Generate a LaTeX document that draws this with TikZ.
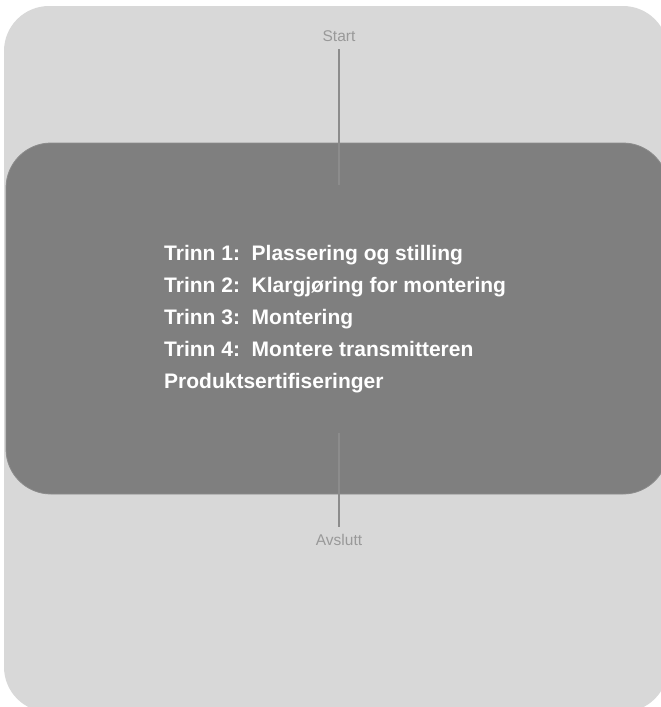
\documentclass[tikz,border=0pt]{standalone}
\usepackage{fontspec}
\setmainfont{Liberation Sans}
\usepackage{tikz}
\usetikzlibrary{positioning,calc}
\definecolor{panellight}{HTML}{D8D8D8}
\definecolor{paneldark}{HTML}{7F7F7F}
\definecolor{paneledge}{HTML}{8C8C8C}
\definecolor{linkgray}{HTML}{8C8C8C}
\definecolor{endgray}{HTML}{999999}

\begin{document}
\begin{tikzpicture}[x=1pt,y=-1pt,
  endlabel/.style={inner sep=0pt,anchor=base,text=endgray,font=\fontsize{15.5}{16}\selectfont},
  steptext/.style={inner sep=0pt,anchor=base west,text=white,font=\fontsize{21}{22}\selectfont\bfseries},
  link/.style={draw=linkgray,line width=2.2pt}]
\useasboundingbox (0,0) rectangle (661,707);
% panels
\fill[panellight,rounded corners=45pt] (4,6) rectangle (668,712);
\filldraw[fill=paneldark,draw=paneledge,line width=0.8pt,rounded corners=45pt] (6,143) rectangle (668,494);
% start and end
\node[endlabel] (start) at (339,41) {Start};
\coordinate (startfoot) at (339,185);
\draw[link,shorten <=8pt] (start) -- (startfoot);
\node[endlabel] (stop) at (339,545) {Avslutt};
\coordinate (stophead) at (339,433);
\draw[link,shorten >=6.7pt] (stophead) -- (stop);
% steps
\foreach \txt [count=\i] in {Trinn 1:\ \ Plassering og stilling,Trinn 2:\ \ Klargjøring for montering,Trinn 3:\ \ Montering,Trinn 4:\ \ Montere transmitteren,Produktsertifiseringer}
  \node[steptext] (step\i) at (164,{260+32.1*(\i-1)}) {\txt};
\end{tikzpicture}
\end{document}
